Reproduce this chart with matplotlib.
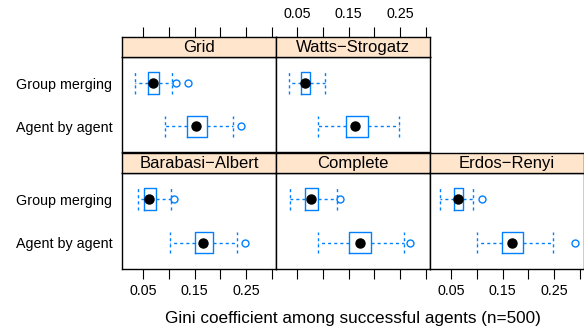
import matplotlib.pyplot as plt

plt.rcParams['font.family'] = ['Liberation Sans', 'DejaVu Sans']

panels = ["Grid", "Watts\u2212Strogatz", "Barabasi\u2212Albert", "Complete", "Erdos\u2212Renyi"]
methods = ["Agent by agent", "Group merging"]

# Group merging
gm_lo = [0.033, 0.034, 0.039, 0.036, 0.027]
gm_q1 = [0.060, 0.057, 0.052, 0.065, 0.055]
gm_med = [0.068, 0.065, 0.061, 0.077, 0.063]
gm_q3 = [0.081, 0.075, 0.074, 0.090, 0.073]
gm_hi = [0.105, 0.104, 0.104, 0.127, 0.093]
gm_out = [[0.114, 0.136], [], [0.110], [0.132], [0.110]]
# Agent by agent
ab_lo = [0.092, 0.090, 0.101, 0.090, 0.099]
ab_q1 = [0.134, 0.145, 0.151, 0.150, 0.148]
ab_med = [0.153, 0.162, 0.166, 0.172, 0.168]
ab_q3 = [0.173, 0.188, 0.186, 0.193, 0.190]
ab_hi = [0.225, 0.247, 0.233, 0.257, 0.247]
ab_out = [[0.240], [], [0.247], [0.269], [0.291]]

xticks = [0.05, 0.10, 0.15, 0.20, 0.25, 0.30]
xticklabels = ["0.05", "", "0.15", "", "0.25", ""]

blue = "#0080ff"
W, H = 584, 332
fig = plt.figure(figsize=(W / 100, H / 100), dpi=100)


def rect(x, y, w, h):
    return [x / W, 1 - (y + h) / H, w / W, h / H]


cells = [(0, 0), (0, 1), (1, 0), (1, 1), (1, 2)]
col_x = [122, 276, 430]
strip_y = [36.7, 152.6]
panel_y = [57.2, 173.3]
strip_h = [20.5, 20.7]
panel_h = 95.2

for i, (row, col) in enumerate(cells):
    ax = fig.add_axes(rect(col_x[col], panel_y[row], 154, panel_h))
    sax = fig.add_axes(rect(col_x[col], strip_y[row], 154, strip_h[row]))

    stats = [
        dict(whislo=ab_lo[i], q1=ab_q1[i], med=ab_med[i], q3=ab_q3[i], whishi=ab_hi[i], fliers=ab_out[i]),
        dict(whislo=gm_lo[i], q1=gm_q1[i], med=gm_med[i], q3=gm_q3[i], whishi=gm_hi[i], fliers=gm_out[i]),
    ]
    ax.bxp(stats, positions=[1, 2], widths=0.5, capwidths=0.5, orientation='horizontal',
           boxprops=dict(color=blue, lw=1),
           whiskerprops=dict(color=blue, lw=1, ls=(0, (2.2, 2.2))),
           capprops=dict(color=blue, lw=1, ls=(0, (2.2, 2.2))),
           medianprops=dict(lw=0),
           flierprops=dict(marker='o', mfc='none', mec=blue, ms=5, mew=1))
    ax.plot([ab_med[i], gm_med[i]], [1, 2], 'o', color='black', ms=6.5, zorder=3)

    ax.set_xlim(0.0085, 0.308)
    ax.set_ylim(0.4, 2.6)
    ax.set_yticks([1, 2])
    if col == 0:
        ax.set_yticklabels(methods, fontsize=10.3)
    else:
        ax.set_yticklabels([])
    ax.tick_params(axis='y', length=0, pad=7)
    ax.set_xticks(xticks)
    if row == 1:
        ax.set_xticklabels(xticklabels if col != 1 else [""] * 6, fontsize=10.3)
        ax.tick_params(axis='x', length=7, width=0.8, pad=4)
    else:
        ax.tick_params(axis='x', bottom=False, labelbottom=False)
    for s in ax.spines.values():
        s.set_linewidth(1)

    sax.set_facecolor("#ffe5cc")
    sax.set_xlim(0.0085, 0.308)
    sax.set_yticks([])
    sax.text(0.5, 0.45, panels[i], transform=sax.transAxes, ha='center', va='center', fontsize=12)
    sax.set_xticks(xticks)
    if row == 0:
        sax.tick_params(axis='x', bottom=False, labelbottom=False, top=True,
                        labeltop=(col == 1), length=7, width=0.8, pad=4, labelsize=10.3)
        sax.set_xticklabels(xticklabels)
    else:
        sax.tick_params(axis='x', bottom=False, labelbottom=False)
    for s in sax.spines.values():
        s.set_linewidth(1)

fig.text(353 / W, 1 - 319 / H, "Gini coefficient among successful agents (n=500)",
         ha='center', va='center', fontsize=12.3)

fig.savefig("out.png", dpi=100)
